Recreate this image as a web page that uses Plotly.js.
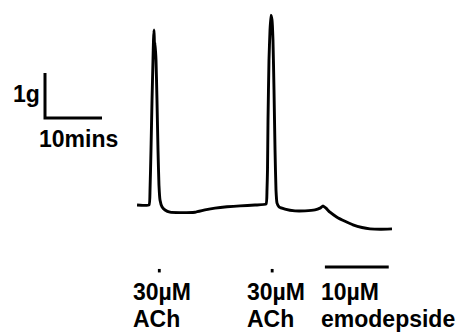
<!DOCTYPE html>
<html>
<head>
<meta charset="utf-8">
<script src="https://cdn.plot.ly/plotly-3.0.1.min.js"></script>
<style>html,body{margin:0;padding:0;background:#fff;}#chart{width:469px;height:334px;}</style>
</head>
<body>
<div id="chart"></div>
<script>
// Time (minutes) and tension (g, relative to resting baseline)
const timeMin = [24.04,26.14,26.32,26.49,26.67,26.84,26.93,27.02,27.11,27.19,27.37,27.54,27.72,27.89,28.07,28.42,28.95,29.82,31.58,34.21,35.96,37.72,39.82,42.11,44.74,46.67,46.84,46.93,47.02,47.19,47.37,47.54,47.72,47.89,48.07,48.25,48.42,48.60,48.95,50.00,51.75,53.51,55.26,56.14,56.67,57.19,57.89,59.12,60.53,61.93,63.51,64.91,66.67,68.77];
const tensionG = [0,0,0.33,1.22,2.33,3.22,3.67,3.89,3.56,3.62,3.22,2.33,1.22,0.44,0.11,-0.04,-0.11,-0.16,-0.17,-0.16,-0.11,-0.07,-0.04,-0.02,0,0.02,0.33,0.78,1.89,3.22,3.89,4.22,4.11,3.67,2.56,1.22,0.33,0.04,-0.04,-0.09,-0.13,-0.13,-0.11,-0.07,-0.02,-0.07,-0.16,-0.27,-0.36,-0.44,-0.50,-0.53,-0.54,-0.53];

// Drug applications
const drugLabels = ["30µM", "30µM", "10µM"];
const drugNames = ["ACh", "ACh", "emodepside"];
const drugStart = [27.7, 47.5, 57.0];
const drugEnd = [28.2, 48.0, 68.2];

// Scale bar
const scaleBarMin = 10;
const scaleBarG = 1;
const scaleBarLabels = ["1g", "10mins"];

const PXPERMIN = 5.7, PXPERG = 45, BASEPX = 205, W = 469, H = 334;
const xr = [0, W / PXPERMIN];
const yr = [(BASEPX - H) / PXPERG, BASEPX / PXPERG];

const sbX0 = 45 / PXPERMIN, sbY0 = (BASEPX - 118) / PXPERG;
const markY = -1.46, barY = -1.38;

const traces = [{
  x: timeMin, y: tensionG, type: 'scatter', mode: 'lines',
  line: {color: '#000', width: 2.9, shape: 'spline', smoothing: 0.4},
  hoverinfo: 'skip'
}, {
  x: [sbX0, sbX0, sbX0 + scaleBarMin], y: [sbY0 + scaleBarG, sbY0, sbY0],
  type: 'scatter', mode: 'lines', line: {color: '#000', width: 3}, hoverinfo: 'skip'
}];
drugStart.forEach((s, i) => {
  traces.push({x: [s, drugEnd[i]], y: [i === 2 ? barY : markY, i === 2 ? barY : markY],
    type: 'scatter', mode: 'lines', line: {color: '#000', width: i === 2 ? 3 : 3.5}, hoverinfo: 'skip'});
});

const F = {family: 'Liberation Sans, Arial, sans-serif', size: 23, color: '#000'};
const lbl = (px, py, t) => ({xref: 'paper', yref: 'paper', x: px / W, y: 1 - py / H,
  xanchor: 'left', yanchor: 'top', text: '<b>' + t + '</b>', showarrow: false, font: F, borderpad: 0});
const labelX = [132, 246, 320];
const annotations = [];
drugLabels.forEach((t, i) => {
  annotations.push(lbl(labelX[i], 278, t));
  annotations.push(lbl(labelX[i], 305, drugNames[i]));
});
annotations.push(lbl(12, 80, scaleBarLabels[0]));
annotations.push(lbl(38, 125, scaleBarLabels[1]));

Plotly.newPlot('chart', traces, {
  width: W, height: H, margin: {l: 0, r: 0, t: 0, b: 0},
  paper_bgcolor: '#fff', plot_bgcolor: '#fff', showlegend: false,
  xaxis: {range: xr, visible: false, fixedrange: true},
  yaxis: {range: yr, visible: false, fixedrange: true},
  annotations: annotations
}, {staticPlot: true});
</script>
</body>
</html>
